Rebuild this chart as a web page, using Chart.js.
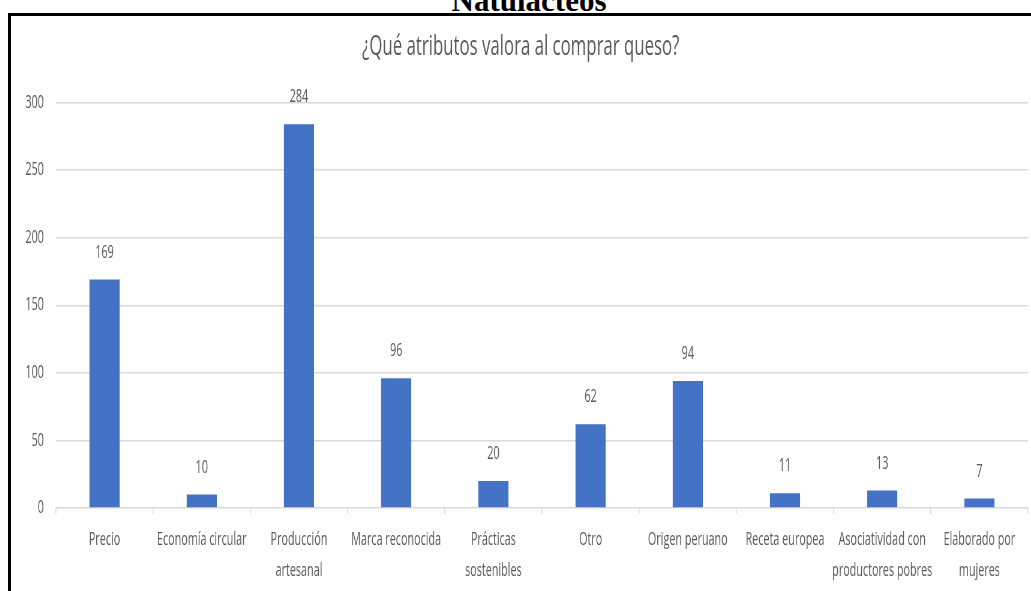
<!DOCTYPE html>
<html lang="es">
<head>
<meta charset="utf-8">
<title>¿Qué atributos valora al comprar queso?</title>
<script src="https://cdn.jsdelivr.net/npm/chart.js@4.4.1/dist/chart.umd.min.js"></script>
<style>
  html, body { margin: 0; padding: 0; background: #fff; overflow: hidden; }
  body { position: relative; width: 1031px; height: 591px; }
  .heading {
    position: absolute; left: 0; top: -17px; width: 1058px;
    text-align: center; line-height: 1;
    font: bold 31px "Liberation Serif", "Times New Roman", serif; color: #000;
  }
  .frame {
    position: absolute; left: 8px; top: 13px; width: 1030px; height: 600px;
    border: 3px solid #000; overflow: hidden; background: #fff;
  }
  /* chart is laid out wide, then squeezed horizontally like the source slide */
  .squeeze {
    position: absolute; left: 0; top: 0; width: 1700px; height: 575px;
    transform: scaleX(0.6); transform-origin: 0 0;
  }
</style>
</head>
<body>
<div class="heading">Natulacteos</div>
<div class="frame">
  <div class="squeeze"><canvas id="QuesoChart" width="1700" height="575"></canvas></div>
</div>
<script>
(function () {
  "use strict";

  // Data
  const categories = [
    'Precio',
    'Economía circular',
    ['Producción', 'artesanal'],
    'Marca reconocida',
    ['Prácticas', 'sostenibles'],
    'Otro',
    'Origen peruano',
    'Receta europea',
    ['Asociatividad con', 'productores pobres'],
    ['Elaborado por', 'mujeres']
  ];
  const answers = [169, 10, 284, 96, 20, 62, 94, 11, 13, 7];
  const yMax  = 300;
  const yStep = 50;

  // Colors
  const bar_blue  = '#4472C4';
  const text_gray = '#595959';
  const grid_gray = '#d9d9d9';

  // value on top of each bar
  const barValueLabels = {
    id: 'barValueLabels',
    afterDatasetsDraw(chart) {
      const ctx = chart.ctx;
      const ds = chart.data.datasets[0];
      const meta = chart.getDatasetMeta(0);
      ctx.save();
      ctx.font = '18px "Open Sans", sans-serif';
      ctx.fillStyle = text_gray;
      ctx.textAlign = 'center';
      ctx.textBaseline = 'middle';
      meta.data.forEach(function (bar, i) {
        ctx.fillText(String(ds.data[i]), bar.x, bar.y - 27);
      });
      ctx.restore();
    }
  };

  const myChart = function () {
    Chart.defaults.font.family = '"Open Sans", sans-serif';
    Chart.defaults.color = text_gray;

    const el = document.getElementById('QuesoChart');
    if (el == null) return;
    const ctx = el.getContext('2d');

    new Chart(ctx, {
      type: 'bar',
      data: {
        labels: categories,
        datasets: [{
          label: 'Respuestas',
          data: answers,
          backgroundColor: bar_blue,
          borderWidth: 0,
          barPercentage: 0.31,
          categoryPercentage: 1
        }]
      },
      options: {
        responsive: false,
        animation: false,
        layout: {
          padding: { left: 4, right: 5, top: 14, bottom: 0 }
        },
        plugins: {
          legend: { display: false },
          tooltip: { enabled: false },
          title: {
            display: true,
            text: '¿Qué atributos valora al comprar queso?',
            color: text_gray,
            font: { size: 28, weight: 'normal' },
            padding: { top: 0, bottom: 39 }
          }
        },
        scales: {
          x: {
            border: { display: false },
            grid: {
              drawOnChartArea: false,
              drawTicks: true,
              tickLength: 6,
              color: grid_gray,
              lineWidth: 1.5
            },
            ticks: {
              color: text_gray,
              font: { size: 18, lineHeight: 1.7 },
              padding: 11,
              autoSkip: false,
              maxRotation: 0,
              minRotation: 0
            },
            // keep the label band a fixed height below the plot
            afterFit: function (scale) {
              scale.height = 83;
            }
          },
          y: {
            min: 0,
            max: yMax,
            border: { display: false },
            grid: {
              drawTicks: false,
              color: grid_gray,
              lineWidth: 1.5
            },
            ticks: {
              stepSize: yStep,
              color: text_gray,
              font: { size: 18 },
              padding: 20
            }
          }
        }
      },
      plugins: [barValueLabels]
    });
  };

  myChart();

})();
</script>
</body>
</html>
